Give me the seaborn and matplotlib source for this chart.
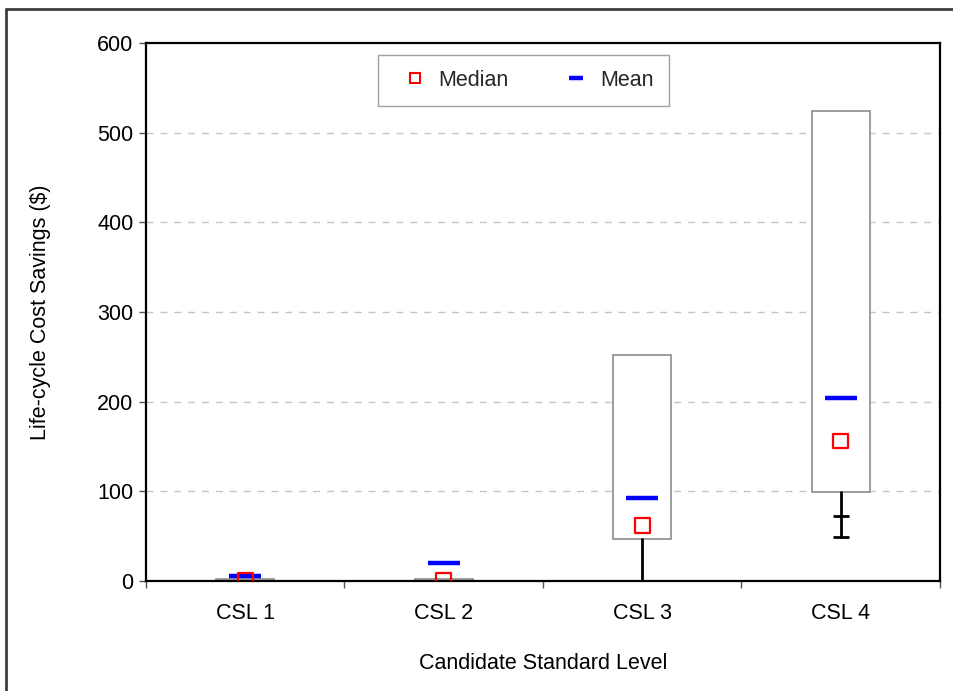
import matplotlib
matplotlib.use("Agg")
import matplotlib.pyplot as plt
from matplotlib.lines import Line2D
import seaborn as sns
import pandas as pd

# Life-cycle cost savings distribution by candidate standard level
categories = ["CSL 1", "CSL 2", "CSL 3", "CSL 4"]
box_low = [0, 0, 47, 99]          # lower edge of box
box_high = [2, 2, 252, 524]       # upper edge of box
whisker_low = [0, 0, 0, 49]       # end of lower whisker
whisker_mid = [0, 0, 0, 73]       # intermediate cap on lower whisker
medians = [1, 1, 62, 156]
means = [6, 20, 93, 204]
y_ticks = [0, 100, 200, 300, 400, 500, 600]

df = pd.DataFrame({"level": categories, "median": medians, "mean": means})

sns.set_theme(style="white")
plt.rcParams["font.family"] = ["Liberation Sans", "DejaVu Sans"]
FS = 15.5

fig = plt.figure(figsize=(9.54, 6.91), dpi=100)
ax = fig.add_axes([146 / 954, 1 - 581 / 691, 794 / 954, 538 / 691])

# boxes and whiskers
stats = []
for i, c in enumerate(categories):
    stats.append(dict(label=c, med=medians[i], q1=box_low[i], q3=box_high[i],
                      whislo=whisker_low[i], whishi=box_high[i], fliers=[]))
ax.bxp(stats, positions=range(len(categories)), widths=0.29,
       showcaps=False, showfliers=False, patch_artist=True,
       boxprops=dict(facecolor="white", edgecolor="#8c8c8c", linewidth=1.2),
       whiskerprops=dict(color="black", linewidth=2),
       medianprops=dict(linewidth=0), zorder=2)
cap_l = [i - 0.04 for i in range(len(categories))]
cap_r = [i + 0.04 for i in range(len(categories))]
ax.hlines(whisker_low, cap_l, cap_r, color="black", linewidth=2, zorder=3)
ax.hlines(whisker_mid, cap_l, cap_r, color="black", linewidth=2, zorder=3)

# mean and median markers
sns.scatterplot(data=df, x="level", y="mean", marker="_", s=500, linewidth=3.2,
                color="#0000ff", ax=ax, zorder=5, legend=False)
sns.scatterplot(data=df, x="level", y="median", marker="s", s=110,
                facecolor="none", edgecolor="#ff0000", linewidth=1.6,
                ax=ax, zorder=6, legend=False)

ax.set_xlim(-0.5, 3.5)
ax.set_ylim(0, 600)
ax.set_yticks(y_ticks)
ax.set_yticklabels([str(v) for v in y_ticks])
ax.set_xticks(range(4))
ax.set_xticklabels(categories)
ax.set_xticks([-0.5, 0.5, 1.5, 2.5, 3.5], minor=True)
ax.tick_params(axis="x", which="major", length=0, pad=16, labelsize=FS, colors="black")
ax.tick_params(axis="x", which="minor", length=5, width=1, color="#555555", direction="out", bottom=True)
ax.tick_params(axis="y", which="major", length=5, width=1, color="#555555", direction="out",
               left=True, pad=4, labelsize=FS, labelcolor="black")

for y in y_ticks[1:-1]:
    ax.axhline(y, color="#c4c4c4", linewidth=1, linestyle=(0, (5, 5)), zorder=1)

for s in ax.spines.values():
    s.set_visible(True)
    s.set_color("black")
    s.set_linewidth(1.6)

ax.set_xlabel("Candidate Standard Level", fontsize=FS, labelpad=21, color="black")
ax.set_ylabel("Life-cycle Cost Savings ($)", fontsize=FS, labelpad=33, color="black")

handles = [
    Line2D([], [], linestyle="none", marker="s", markersize=7.5, markerfacecolor="none",
           markeredgecolor="#ff0000", markeredgewidth=1.5, label="Median"),
    Line2D([], [], linestyle="none", marker="_", markersize=10, markeredgewidth=3.2,
           color="#0000ff", label="Mean"),
]
leg = ax.legend(handles=handles, loc="upper left", bbox_to_anchor=((378 - 146) / 794, 0.978),
                ncol=2, fontsize=FS, frameon=True, fancybox=False, handlelength=2.0,
                handletextpad=0.1, columnspacing=2.15, borderpad=0.7,
                borderaxespad=0)
leg.get_frame().set_edgecolor("#8c8c8c")
leg.get_frame().set_linewidth(1.0)

# outer frame of the figure
fig.add_artist(Line2D([6.5 / 954, 6.5 / 954], [0, 1 - 8.5 / 691], transform=fig.transFigure,
                      color="#404040", linewidth=2))
fig.add_artist(Line2D([6.5 / 954, 1], [1 - 8.5 / 691, 1 - 8.5 / 691], transform=fig.transFigure,
                      color="#404040", linewidth=2))

fig.savefig("out.png", dpi=100, facecolor="white")
